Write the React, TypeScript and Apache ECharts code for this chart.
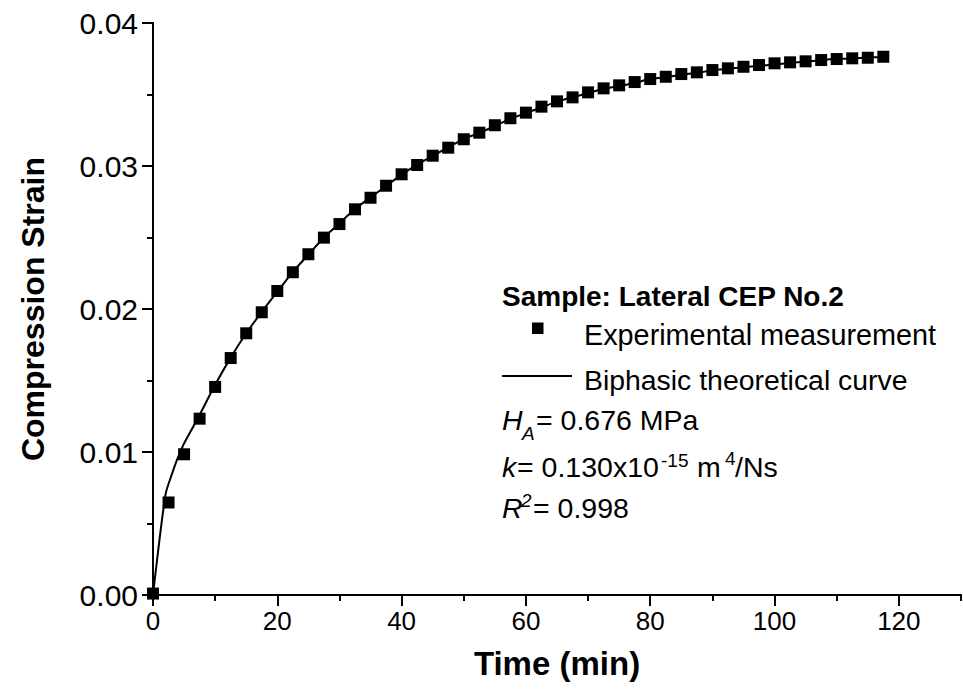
import React, { useEffect, useRef } from "react";
import * as echarts from "echarts";

const timeMin = [0, 2.5, 5, 7.5, 10, 12.5, 15, 17.5, 20, 22.5, 25, 27.5, 30, 32.5, 35, 37.5, 40, 42.5, 45, 47.5, 50, 52.5, 55, 57.5, 60, 62.5, 65, 67.5, 70, 72.5, 75, 77.5, 80, 82.5, 85, 87.5, 90, 92.5, 95, 97.5, 100, 102.5, 105, 107.5, 110, 112.5, 115, 117.5];
const measuredStrain = [0.0001, 0.00647, 0.00984, 0.01233, 0.01455, 0.01657, 0.0183, 0.01977, 0.02126, 0.02257, 0.02383, 0.02499, 0.02594, 0.02697, 0.02778, 0.02862, 0.02942, 0.03007, 0.03072, 0.03128, 0.03187, 0.03233, 0.03285, 0.03334, 0.03373, 0.03415, 0.03452, 0.0348, 0.03515, 0.03543, 0.03564, 0.03587, 0.03608, 0.03624, 0.03643, 0.03655, 0.03671, 0.03683, 0.03694, 0.03706, 0.03718, 0.03725, 0.03732, 0.03741, 0.03748, 0.03753, 0.03757, 0.03764];

const curveTime = [0, 2, 3, 4, 5, 6, 7.5, 10, 12.5, 15, 17.5, 20, 22.5, 25, 27.5, 30, 32.5, 35, 37.5, 40, 42.5, 45, 47.5, 50, 52.5, 55, 57.5, 60, 62.5, 65, 67.5, 70, 72.5, 75, 77.5, 80, 82.5, 85, 87.5, 90, 92.5, 95, 97.5, 100, 102.5, 105, 107.5, 110, 112.5, 115, 117.5];
const curveStrain = [0, 0.0070, 0.0084, 0.0096, 0.0106, 0.0114, 0.0126, 0.0147, 0.0166, 0.0183, 0.0198, 0.0212, 0.0226, 0.0238, 0.0250, 0.0260, 0.0270, 0.0278, 0.0286, 0.0294, 0.0301, 0.0307, 0.0313, 0.0319, 0.0323, 0.0328, 0.0333, 0.0337, 0.0341, 0.0345, 0.0348, 0.0351, 0.0354, 0.0356, 0.0358, 0.0361, 0.0362, 0.0364, 0.0365, 0.0367, 0.0368, 0.0369, 0.0370, 0.0371, 0.0372, 0.0373, 0.0374, 0.0375, 0.0375, 0.0376, 0.0376];

const xTicks = [0, 20, 40, 60, 80, 100, 120];
const yTicks = [0.0, 0.01, 0.02, 0.03, 0.04];

const FONT = "'Liberation Sans', Arial, sans-serif";

// text helper: x = left edge, baseline = alphabetic baseline
function txt(text: string, x: number, baseline: number, size: number, extra = "") {
  return {
    type: "text",
    x,
    y: baseline - 0.36 * size,
    style: {
      text,
      font: `${extra} ${size}px ${FONT}`.trim(),
      fill: "#000",
      align: "left",
      verticalAlign: "middle",
    },
  };
}

export default function App() {
  const ref = useRef<HTMLDivElement>(null);
  useEffect(() => {
    if (!ref.current) return;
    const chart = echarts.init(ref.current, null, { renderer: "svg" });
    const axisLine = { show: true, lineStyle: { color: "#000", width: 2 } };
    const hidden = { show: false };
    const option: any = {
      animation: false,
      backgroundColor: "#fff",
      grid: { left: 153, right: 2, top: 23, bottom: 99, containLabel: false },
      xAxis: [
        {
          type: "value", position: "bottom", min: 0, max: 130, interval: 20,
          axisLine, splitLine: hidden,
          axisTick: { show: true, inside: false, length: 11, lineStyle: { color: "#000", width: 2 } },
          axisLabel: {
            show: true, margin: 13, color: "#000", fontFamily: FONT, fontSize: 26,
            showMaxLabel: false,
            formatter: (v: number) => (xTicks.indexOf(v) >= 0 ? String(v) : ""),
          },
          name: "Time (min)", nameLocation: "middle", nameGap: 52,
          nameTextStyle: { color: "#000", fontFamily: FONT, fontSize: 33, fontWeight: "bold" },
        },
        {
          type: "value", position: "bottom", min: 0, max: 130, interval: 10,
          axisLine: hidden, splitLine: hidden, axisLabel: hidden,
          axisTick: { show: true, inside: false, length: 6, lineStyle: { color: "#000", width: 2 } },
        },
        {
          type: "value", position: "top", min: 0, max: 130, interval: 10,
          axisLine, splitLine: hidden, axisLabel: hidden,
          axisTick: { show: true, inside: true, length: 3, lineStyle: { color: "#000", width: 2 } },
        },
      ],
      yAxis: [
        {
          type: "value", position: "left", min: 0, max: 0.04, interval: 0.01,
          axisLine, splitLine: hidden,
          axisTick: { show: true, inside: false, length: 11, lineStyle: { color: "#000", width: 2 } },
          axisLabel: {
            show: true, margin: 15, color: "#000", fontFamily: FONT, fontSize: 30,
            formatter: (v: number) => {
              const hit = yTicks.find((t) => Math.abs(t - v) < 1e-9);
              return hit === undefined ? "" : hit.toFixed(2);
            },
          },
          name: "Compression Strain", nameLocation: "middle", nameGap: 104, nameRotate: 90,
          nameTextStyle: { color: "#000", fontFamily: FONT, fontSize: 32, fontWeight: "bold" },
        },
        {
          type: "value", position: "left", min: 0, max: 0.04, interval: 0.005,
          axisLine: hidden, splitLine: hidden, axisLabel: hidden,
          axisTick: { show: true, inside: false, length: 6, lineStyle: { color: "#000", width: 2 } },
        },
        {
          type: "value", position: "right", min: 0, max: 0.04, interval: 0.005,
          axisLine, splitLine: hidden, axisLabel: hidden,
          axisTick: { show: true, inside: true, length: 3, lineStyle: { color: "#000", width: 2 } },
        },
      ],
      series: [
        {
          name: "Biphasic theoretical curve", type: "line", xAxisIndex: 0, yAxisIndex: 0,
          data: curveTime.map((t, i) => [t, curveStrain[i]]),
          showSymbol: false, smooth: 0.25, z: 2,
          lineStyle: { color: "#000", width: 2 },
        },
        {
          name: "Experimental measurement", type: "scatter", xAxisIndex: 0, yAxisIndex: 0,
          data: timeMin.map((t, i) => [t, measuredStrain[i]]),
          symbol: "rect", symbolSize: 12, z: 3,
          itemStyle: { color: "#000", opacity: 1 },
        },
      ],
      graphic: [
        txt("Sample: Lateral CEP No.2", 502, 307, 28, "bold"),
        { type: "rect", shape: { x: 532, y: 322.5, width: 11.5, height: 11.5 }, style: { fill: "#000" } },
        txt("Experimental measurement", 584, 345, 28.8),
        { type: "line", shape: { x1: 502, y1: 376, x2: 572, y2: 376 }, style: { stroke: "#000", lineWidth: 2 } },
        txt("Biphasic theoretical curve", 584, 390, 28.4),
        txt("H", 502, 430, 28.5, "italic"),
        txt("A", 522, 440, 19, "italic"),
        txt("= 0.676 MPa", 536, 430, 28.5),
        txt("k", 502, 477, 28.5, "italic"),
        txt("= 0.130x10", 517, 477, 28.5),
        txt("-15", 661, 467, 19),
        txt("m", 697, 477, 28.5),
        txt("4", 725, 465, 19),
        txt("/Ns", 735, 477, 28.5),
        txt("R", 502, 518, 28.5, "italic"),
        txt("2", 521, 507, 19, "italic"),
        txt("= 0.998", 533, 518, 28.5),
      ],
    };
    chart.setOption(option);
    return () => chart.dispose();
  }, []);
  return <div ref={ref} style={{ width: 963, height: 694, position: "absolute", left: 0, top: 0 }} />;
}
